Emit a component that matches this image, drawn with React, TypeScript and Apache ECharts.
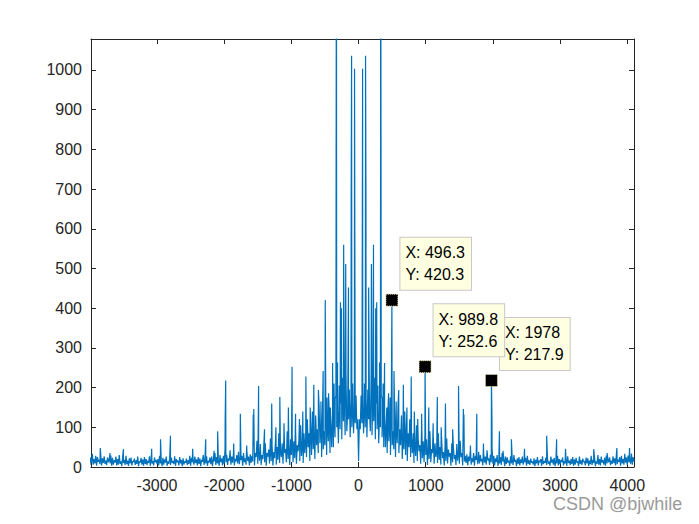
import React, { useEffect, useRef } from "react";
import * as echarts from "echarts";

// Positive-frequency half of the (symmetric) magnitude spectrum.
// Noise floor read every 12.5 Hz from 0 Hz to 4100 Hz (16 values = 200 Hz per row).
const noiseStep = 12.5;
const noiseHalf: number[] = [
  15, 120, 95, 180, 110, 150, 85, 210, 100, 170, 75, 195, 120, 140, 90, 240,
  80, 175, 115, 225, 70, 160, 95, 205, 60, 140, 100, 180, 75, 150, 50, 130,
  50, 115, 35, 145, 65, 100, 30, 165, 55, 90, 45, 130, 25, 110, 60, 155,
  35, 95, 55, 125, 20, 80, 45, 140, 30, 105, 15, 85, 50, 120, 25, 75,
  35, 85, 10, 60, 28, 105, 15, 70, 40, 55, 8, 95, 22, 65, 12, 80,
  30, 70, 5, 55, 20, 90, 12, 45, 35, 75, 8, 60, 25, 40, 10, 85,
  18, 50, 6, 65, 22, 38, 4, 55, 15, 72, 9, 44, 26, 35, 3, 60,
  12, 48, 20, 30, 5, 58, 16, 40, 8, 66, 25, 35, 4, 52, 14, 28,
  10, 32, 4, 26, 15, 40, 6, 22, 12, 35, 3, 28, 18, 24, 7, 38,
  9, 30, 14, 20, 4, 34, 11, 26, 6, 42, 16, 22, 5, 31, 12, 48,
  8, 28, 4, 22, 12, 30, 3, 18, 9, 25, 5, 35, 14, 20, 2, 26,
  7, 24, 11, 16, 3, 27, 9, 20, 5, 30, 13, 18, 2, 22, 8, 25,
  4, 19, 10, 26, 6, 15, 12, 23, 3, 28, 8, 17, 5, 21, 11, 14,
  6, 22, 2, 18, 9, 25, 4, 16, 12, 20, 3, 27, 7, 15, 10, 24,
  5, 21, 8, 14, 3, 26, 11, 19, 6, 23, 2, 17, 9, 28, 4, 20,
  7, 18, 12, 24, 4, 15, 9, 22, 3, 27, 10, 16, 5, 20, 8, 25,
  3, 19, 6, 23, 11, 14, 2, 26, 8, 17, 5, 21, 12, 15, 4, 24,
  9, 22, 3, 16, 7, 28, 5, 18, 10, 25, 2, 14, 8, 30, 6, 20,
  4, 26, 11, 17, 6, 23, 3, 29, 9, 19, 12, 24, 5, 16, 8, 27,
  10, 22, 4, 31, 7, 18, 13, 25, 3, 28, 9, 20, 6, 33, 11, 24,
  5, 29, 12, 21, 8, 34, 6, 25, 14,
];

// Spectral peaks (frequency, magnitude) on the positive side.
const peakFreqs: number[] = [
  60, 104, 110, 150, 191, 222, 255, 270, 313, 330, 348, 365, 387, 420, 447,
  470, 496.3, 527, 560, 598, 640, 666, 720, 784, 830, 880, 938, 989.8, 1045,
  1110, 1172, 1230, 1293, 1400, 1488, 1560, 1568, 1665, 1760, 1859, 1978,
  1986, 2097, 2150, 2275, 2470, 2800, 2948, 3080, 3500, 3700, 3845, 4034,
];
const peakMags: number[] = [
  1003, 1036, 684, 452, 511, 560, 400, 415, 263, 1500, 173, 210, 262, 150, 186,
  175, 420.3, 242, 165, 194, 130, 207, 150, 228, 140, 121, 134, 252.6, 150,
  110, 176, 100, 160, 95, 204, 146, 132, 54, 134, 59, 217.9,
  116, 90, 41, 70, 46, 79, 70, 46, 45, 35, 48, 48,
];

// Data tips
const tipX: number[] = [496.3, 1978, 989.8];
const tipY: number[] = [420.3, 217.9, 252.6];

const xTickValues: number[] = [-3000, -2000, -1000, 0, 1000, 2000, 3000, 4000];
const yTickValues: number[] = [0, 100, 200, 300, 400, 500, 600, 700, 800, 900, 1000];

function buildSeries(): [number, number][] {
  const half: [number, number][] = [];
  noiseHalf.forEach((v, i) => half.push([i * noiseStep, v]));
  peakFreqs.forEach((f, i) => half.push([f, peakMags[i]]));
  half.sort((a, b) => a[0] - b[0]);
  const neg: [number, number][] = half
    .filter((p) => p[0] > 0)
    .map((p) => [-p[0], p[1]] as [number, number])
    .reverse();
  return neg.concat(half);
}

const fmt = (v: number) => String(Number(v.toPrecision(4)));

export default function App() {
  const ref = useRef<HTMLDivElement>(null);
  useEffect(() => {
    if (!ref.current) return;
    const chart = echarts.init(ref.current, null, { renderer: "svg" });
    const axisColor = "#262626";
    const font = "Liberation Sans, Arial, sans-serif";
    const data = buildSeries();
    const mkX = (position: string, showLabel: boolean) => ({
      type: "value",
      min: -3983,
      max: 4100,
      position,
      axisLine: { show: true, onZero: false, lineStyle: { color: axisColor, width: 1 } },
      axisTick: { show: true, inside: true, length: 5, customValues: xTickValues, lineStyle: { color: axisColor } },
      axisLabel: {
        show: showLabel,
        customValues: xTickValues,
        formatter: (v: number) => String(v),
        color: axisColor,
        fontSize: 16,
        fontFamily: font,
        margin: 10,
      },
      splitLine: { show: false },
    });
    const mkY = (position: string, showLabel: boolean) => ({
      type: "value",
      min: 0,
      max: 1078,
      position,
      axisLine: { show: true, onZero: false, lineStyle: { color: axisColor, width: 1 } },
      axisTick: { show: true, inside: true, length: 5, customValues: yTickValues, lineStyle: { color: axisColor } },
      axisLabel: {
        show: showLabel,
        customValues: yTickValues,
        formatter: (v: number) => String(v),
        color: axisColor,
        fontSize: 16,
        fontFamily: font,
        margin: 9,
      },
      splitLine: { show: false },
    });
    chart.setOption({
      animation: false,
      backgroundColor: "#ffffff",
      grid: { left: 91, top: 39, right: 65, bottom: 57, containLabel: false },
      xAxis: [mkX("bottom", true), mkX("top", false)],
      yAxis: [mkY("left", true), mkY("right", false)],
      series: [
        {
          type: "line",
          xAxisIndex: 0,
          yAxisIndex: 0,
          data,
          showSymbol: false,
          symbol: "none",
          clip: true,
          lineStyle: { color: "#0072BD", width: 1.2 },
          markPoint: {
            symbol: "rect",
            symbolSize: 12,
            itemStyle: { color: "#000000", borderColor: "#f3eeb4", borderWidth: 1, borderType: "dotted" },
            label: {
              show: true,
              position: [15, -56],
              align: "left",
              verticalAlign: "top",
              color: "#000000",
              fontSize: 16,
              fontFamily: font,
              lineHeight: 22,
              backgroundColor: "#FFFFE1",
              borderColor: "#C8C8C8",
              borderWidth: 1,
              padding: [4, 6, 4, 5],
            },
            data: tipX.map((x, i) => ({
              coord: [x, tipY[i]],
              label: { formatter: `X: ${fmt(x)}\nY: ${fmt(tipY[i])}` },
            })),
          },
        },
      ],
      graphic: [
        {
          type: "text",
          left: 553,
          top: 495,
          style: {
            text: "CSDN @bjwhile",
            fill: "#9a9a9a",
            fontSize: 18,
            lineHeight: 14,
            fontFamily: font,
          },
        },
      ],
    });
    return () => chart.dispose();
  }, []);
  return (
    <div
      ref={ref}
      style={{ position: "fixed", left: 0, top: 0, width: 699, height: 524 }}
    />
  );
}
